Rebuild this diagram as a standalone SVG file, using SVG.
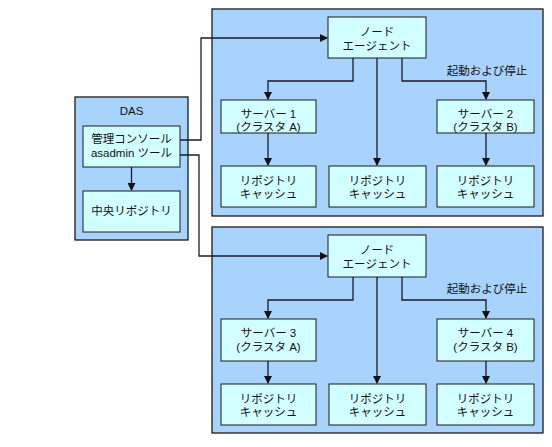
<svg xmlns="http://www.w3.org/2000/svg" width="552" height="447" viewBox="0 0 552 447">
<defs>
<style>
.cont{fill:#a8d3fc;stroke:#1a1a1a;stroke-width:1.3}
.box{fill:#d2ffff;stroke:#1a1a1a;stroke-width:1}
text{font-family:"Liberation Sans","Noto Sans CJK JP",sans-serif;font-size:11.5px;fill:#111;text-anchor:middle}
.ln{fill:none;stroke:#1a1a2a;stroke-width:1.3}
</style>
<marker id="ah" markerWidth="8" markerHeight="8" refX="7" refY="4" orient="auto" markerUnits="userSpaceOnUse">
<path d="M0,0 L8,4 L0,8 z" fill="#111"/>
</marker>
</defs>
<rect width="552" height="447" fill="#fff"/>
<g id="das">
<rect class="cont" x="75" y="97" width="113" height="143"/>
<text x="131.5" y="115">DAS</text>
</g>
<g id="admin">
<rect class="box" x="83" y="126" width="97" height="41"/>
<text x="131.5" y="143">管理コンソール</text>
<text x="131.5" y="157">asadmin ツール</text>
</g>
<g id="central-repo">
<rect class="box" x="83" y="191" width="97" height="41"/>
<text x="131.5" y="215">中央リポジトリ</text>
</g>
<g id="machine1">
<rect class="cont" x="212" y="9" width="331" height="207"/>
</g>
<g id="machine2">
<rect class="cont" x="212" y="227" width="331" height="206"/>
</g>
<g id="na1">
<rect class="box" x="328" y="17" width="98" height="41"/>
<text x="377" y="36">ノード</text>
<text x="377" y="50">エージェント</text>
</g>
<g id="s1">
<rect class="box" x="221" y="100" width="95" height="33"/>
<text x="268.5" y="118">サーバー 1</text>
<text x="268.5" y="131">(クラスタ A)</text>
</g>
<g id="s2">
<rect class="box" x="437" y="100" width="97" height="33"/>
<text x="485.5" y="118">サーバー 2</text>
<text x="485.5" y="131">(クラスタ B)</text>
</g>
<g id="rc1">
<rect class="box" x="221" y="166" width="95" height="41"/>
<text x="268.5" y="185">リポジトリ</text>
<text x="268.5" y="198">キャッシュ</text>
</g>
<g id="rc2">
<rect class="box" x="329" y="166" width="97" height="41"/>
<text x="377.5" y="185">リポジトリ</text>
<text x="377.5" y="198">キャッシュ</text>
</g>
<g id="rc3">
<rect class="box" x="437" y="166" width="97" height="41"/>
<text x="485.5" y="185">リポジトリ</text>
<text x="485.5" y="198">キャッシュ</text>
</g>
<g id="na2">
<rect class="box" x="328" y="235" width="98" height="42"/>
<text x="377" y="254">ノード</text>
<text x="377" y="268">エージェント</text>
</g>
<g id="s3">
<rect class="box" x="221" y="319" width="95" height="42"/>
<text x="268.5" y="337">サーバー 3</text>
<text x="268.5" y="351">(クラスタ A)</text>
</g>
<g id="s4">
<rect class="box" x="437" y="319" width="97" height="42"/>
<text x="485.5" y="337">サーバー 4</text>
<text x="485.5" y="351">(クラスタ B)</text>
</g>
<g id="rc4">
<rect class="box" x="221" y="384" width="95" height="41"/>
<text x="268.5" y="403">リポジトリ</text>
<text x="268.5" y="416">キャッシュ</text>
</g>
<g id="rc5">
<rect class="box" x="329" y="384" width="97" height="41"/>
<text x="377.5" y="403">リポジトリ</text>
<text x="377.5" y="416">キャッシュ</text>
</g>
<g id="rc6">
<rect class="box" x="437" y="384" width="97" height="41"/>
<text x="485.5" y="403">リポジトリ</text>
<text x="485.5" y="416">キャッシュ</text>
</g>
<g id="connectors">
<path class="ln" d="M131.5,167 V190" marker-end="url(#ah)"/>
<path class="ln" d="M180,140 H201 V38 H327" marker-end="url(#ah)"/>
<path class="ln" d="M180,155 H199 V256 H327" marker-end="url(#ah)"/>
<path class="ln" d="M353,58 V81 H268 V99" marker-end="url(#ah)"/>
<path class="ln" d="M377,58 V165" marker-end="url(#ah)"/>
<path class="ln" d="M402,58 V81 H486 V99" marker-end="url(#ah)"/>
<path class="ln" d="M268,133 V165" marker-end="url(#ah)"/>
<path class="ln" d="M486,133 V165" marker-end="url(#ah)"/>
<path class="ln" d="M353,277 V300 H268 V318" marker-end="url(#ah)"/>
<path class="ln" d="M377,277 V383" marker-end="url(#ah)"/>
<path class="ln" d="M402,277 V300 H486 V318" marker-end="url(#ah)"/>
<path class="ln" d="M268,361 V383" marker-end="url(#ah)"/>
<path class="ln" d="M486,361 V383" marker-end="url(#ah)"/>
<text x="487" y="75">起動および停止</text>
<text x="487" y="293">起動および停止</text>
</g>
</svg>
